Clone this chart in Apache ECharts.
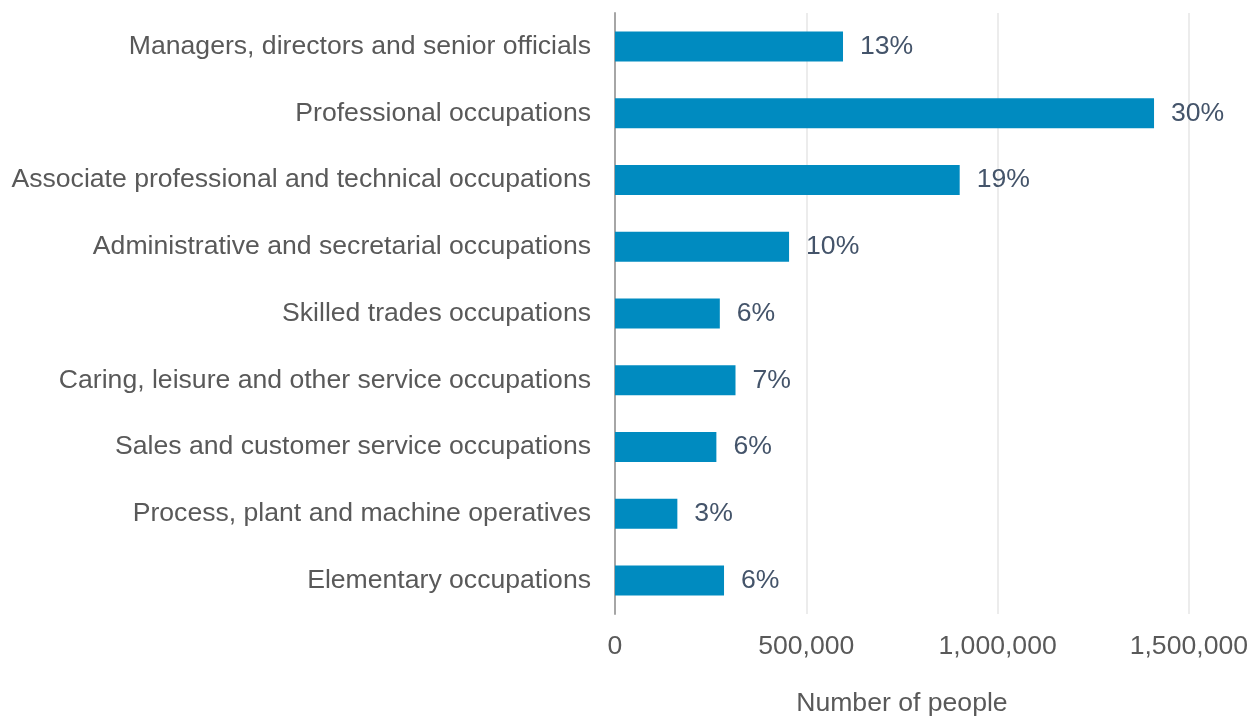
<!DOCTYPE html>
<html>
<head>
<meta charset="utf-8">
<script src="https://cdn.jsdelivr.net/npm/echarts@6/dist/echarts.min.js"></script>
<style>
  html, body { margin: 0; padding: 0; background: #ffffff; overflow: hidden; }
  #chart { width: 1251px; height: 722px; }
</style>
</head>
<body>
<div id="chart"></div>
<script>
// Occupation groups, top to bottom
const categories = [
  'Managers, directors and senior officials',
  'Professional occupations',
  'Associate professional and technical occupations',
  'Administrative and secretarial occupations',
  'Skilled trades occupations',
  'Caring, leisure and other service occupations',
  'Sales and customer service occupations',
  'Process, plant and machine operatives',
  'Elementary occupations'
];

// Number of people in each group
const people = [596000, 1409000, 901000, 455000, 274000, 315000, 265000, 163000, 285000];

// Share of the total, shown at the end of each bar
const shareLabels = ['13%', '30%', '19%', '10%', '6%', '7%', '6%', '3%', '6%'];

const xTicks = [0, 500000, 1000000, 1500000];

const FONT = '"Liberation Sans", Arial, sans-serif';
const FS = 26.6;

const chart = echarts.init(document.getElementById('chart'), null, { renderer: 'canvas' });

chart.setOption({
  backgroundColor: '#ffffff',
  animation: false,
  grid: { left: 615, width: 576, top: 13, height: 607, containLabel: false },
  xAxis: {
    type: 'value',
    min: xTicks[0],
    max: xTicks[xTicks.length - 1],
    interval: xTicks[1] - xTicks[0],
    name: 'Number of people',
    nameLocation: 'middle',
    nameGap: 76,
    nameTextStyle: { color: '#595959', fontSize: FS, fontFamily: FONT },
    axisLine: { show: false },
    axisTick: { show: false },
    axisLabel: {
      color: '#595959', fontSize: FS, fontFamily: FONT, margin: 19,
      formatter: v => v.toLocaleString('en-GB')
    },
    splitLine: { show: true, lineStyle: { color: '#e6e6e6', width: 1.5 } }
  },
  yAxis: {
    type: 'category',
    data: categories,
    inverse: true,
    axisLine: { show: true, lineStyle: { color: '#a6a6a6', width: 2 } },
    axisTick: { show: false },
    axisLabel: { color: '#595959', fontSize: FS, fontFamily: FONT, margin: 24 }
  },
  series: [{
    type: 'bar',
    data: people,
    barWidth: 30,
    itemStyle: { color: '#008bc0' },
    label: {
      show: true,
      position: 'right',
      distance: 17,
      color: '#44546a',
      fontSize: FS,
      fontFamily: FONT,
      formatter: p => shareLabels[p.dataIndex]
    }
  }]
});
</script>
</body>
</html>
